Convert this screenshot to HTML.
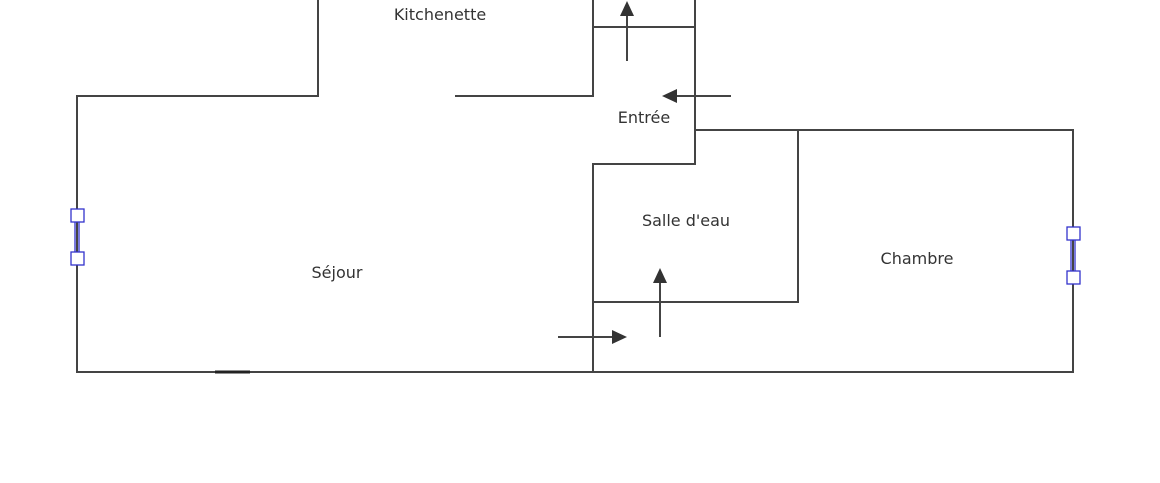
<!DOCTYPE html>
<html><head><meta charset="utf-8"><style>
html,body{margin:0;padding:0;background:#fff;width:1160px;height:483px;overflow:hidden}
svg{display:block}
text{font-family:"DejaVu Sans","Liberation Sans",sans-serif;font-size:16px;fill:#333}
</style></head><body>
<svg width="1160" height="483" viewBox="0 0 1160 483">
<defs>
<marker id="a" markerWidth="10" markerHeight="10" refX="2" refY="5" orient="auto" markerUnits="userSpaceOnUse">
<path d="M0,0 L14,5 L0,10 z" fill="#333"/></marker>
<marker id="b" markerWidth="16" markerHeight="14" refX="0" refY="7" orient="auto" markerUnits="userSpaceOnUse">
<path d="M0,0 L15,7 L0,14 z" fill="#333"/></marker>
</defs>
<g stroke="#444" stroke-width="2" fill="none">
<path d="M318,0 V96 H77 V372 H1073 V130 H695"/>
<path d="M455,96 H593 V0"/>
<path d="M593,27 H695"/>
<path d="M695,0 V164 H593 V372"/>
<path d="M593,302 H798 V130"/>
</g>
<line x1="215" y1="372" x2="250" y2="372" stroke="#222" stroke-width="3"/>
<g stroke="#444" stroke-width="2">
<line x1="627" y1="61" x2="627" y2="16" marker-end="url(#b)"/>
<line x1="731" y1="96" x2="677" y2="96" marker-end="url(#b)"/>
<line x1="660" y1="337" x2="660" y2="283" marker-end="url(#b)"/>
<line x1="558" y1="337" x2="612" y2="337" marker-end="url(#b)"/>
</g>
<g stroke="#33c" stroke-width="1.3" fill="#fff">
<line x1="75" y1="221" x2="75" y2="253"/><line x1="79" y1="221" x2="79" y2="253"/>
<rect x="71" y="209" width="13" height="13"/><rect x="71" y="252" width="13" height="13"/>
<line x1="1071" y1="239" x2="1071" y2="271"/><line x1="1075" y1="239" x2="1075" y2="271"/>
<rect x="1067" y="227" width="13" height="13"/><rect x="1067" y="271" width="13" height="13"/>
</g>
<text x="440" y="20" text-anchor="middle">Kitchenette</text>
<text x="644" y="123" text-anchor="middle">Entrée</text>
<text x="686" y="226" text-anchor="middle">Salle d'eau</text>
<text x="917" y="264" text-anchor="middle">Chambre</text>
<text x="337" y="278" text-anchor="middle">Séjour</text>
</svg>
</body></html>
